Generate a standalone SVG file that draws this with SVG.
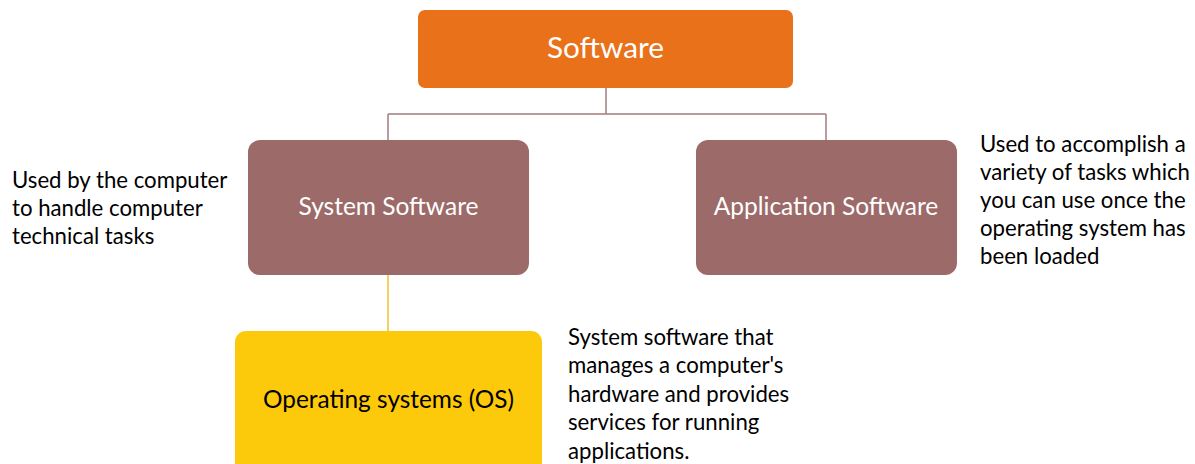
<svg xmlns="http://www.w3.org/2000/svg" width="1195" height="464" viewBox="0 0 1195 464">
<style>
.lbl{font-family:Lato,"Open Sans","Liberation Sans",sans-serif;text-anchor:middle;dominant-baseline:central}
.w{fill:#ffffff}
.desc{font-family:Lato,"Open Sans","Liberation Sans",sans-serif;font-size:22.2px;fill:#000000}
.conn{fill:none;stroke-width:1.5}
</style>
<rect width="1195" height="464" fill="#ffffff"/>
<g id="connectors">
<path class="conn" stroke="#A47C7E" d="M606 88 V114 M388 114 H826 M388 114 V140 M826 114 V140"/>
<path class="conn" stroke="#F2C230" d="M388 275 V331"/>
</g>
<g id="node-software">
<rect x="418" y="10" width="375" height="78" rx="7" fill="#E97119"/>
<text class="lbl w" x="605.5" y="46" font-size="29.8">Software</text>
</g>
<g id="node-system">
<rect x="248" y="140" width="281" height="135" rx="12" fill="#9C6A69"/>
<text class="lbl w" x="388.5" y="205.5" font-size="24.5">System Software</text>
</g>
<g id="node-application">
<rect x="696" y="140" width="261" height="135" rx="12" fill="#9C6A69"/>
<text class="lbl w" x="826" y="205.5" font-size="24.5">Application Software</text>
</g>
<g id="node-os">
<rect x="235" y="331" width="307" height="150" rx="11" fill="#FDC90B"/>
<text class="lbl" x="388.5" y="398.5" font-size="24.4" fill="#000000">Operating systems (OS)</text>
</g>
<g id="desc-system">
<text class="desc" x="12" y="188">Used by the computer</text>
<text class="desc" x="12" y="216">to handle computer</text>
<text class="desc" x="12" y="244">technical tasks</text>
</g>
<g id="desc-application">
<text class="desc" x="980" y="152">Used to accomplish a</text>
<text class="desc" x="980" y="180">variety of tasks which</text>
<text class="desc" x="980" y="208">you can use once the</text>
<text class="desc" x="980" y="236">operating system has</text>
<text class="desc" x="980" y="264">been loaded</text>
</g>
<g id="desc-os">
<text class="desc" x="568" y="345">System software that</text>
<text class="desc" x="568" y="373">manages a computer's</text>
<text class="desc" x="568" y="402">hardware and provides</text>
<text class="desc" x="568" y="430">services for running</text>
<text class="desc" x="568" y="459">applications.</text>
</g>
</svg>
